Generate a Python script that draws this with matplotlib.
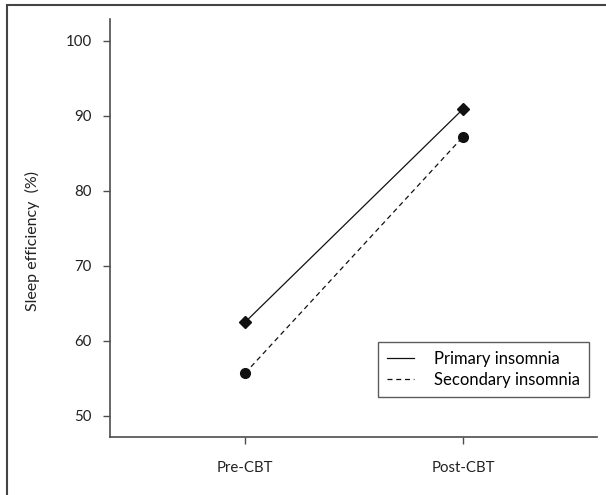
import matplotlib
matplotlib.use("Agg")
import matplotlib.pyplot as plt
from matplotlib.patches import Rectangle

# Data
phases = ["Pre-CBT", "Post-CBT"]
primary = [62.5, 90.9]
secondary = [55.7, 87.2]
y_ticks = [50, 60, 70, 80, 90, 100]

INK = "#111111"
AXIS = "#4d4d4d"

plt.rcParams["font.family"] = ["Lato", "DejaVu Sans"]

fig = plt.figure(figsize=(6.06, 4.95), dpi=100)
ax = fig.add_axes([110 / 606, 1 - 437 / 495, (597 - 110) / 606, (437 - 19) / 495])

x = list(range(len(phases)))
ax.plot(x, primary, color=INK, linewidth=0.9, linestyle="-",
        marker="D", markersize=6, label="Primary insomnia")
ax.plot(x, secondary, color=INK, linewidth=0.9, linestyle=(0, (4, 3)),
        marker="o", markersize=7, label="Secondary insomnia")

ax.set_xlim(-0.62, 1.615)
ax.set_ylim(47.2, 102.9)
ax.set_xticks(x)
ax.set_xticklabels(phases)
ax.set_yticks(y_ticks)
ax.set_ylabel("Sleep efficiency  (%)", fontsize=11.5, color="#222222")
ax.yaxis.set_label_coords((40 - 110) / 487, (437 - 241) / 418)

for side in ("top", "right"):
    ax.spines[side].set_visible(False)
for side in ("left", "bottom"):
    ax.spines[side].set_color(AXIS)
    ax.spines[side].set_linewidth(1.2)

ax.tick_params(axis="y", direction="out", length=5, width=1, color=AXIS,
               labelsize=10.8, labelcolor="#222222", pad=8)
ax.tick_params(axis="x", direction="out", length=5, width=1, color=AXIS,
               labelsize=10.8, labelcolor="#222222", pad=12)

leg = ax.legend(loc="lower right", bbox_to_anchor=((589 - 110) / 487, (437 - 397) / 418),
                borderaxespad=0, frameon=True, fancybox=False, fontsize=12,
                handlelength=1.6, handletextpad=1.2, borderpad=0.55,
                labelspacing=0.3)
leg.get_frame().set_edgecolor("#333333")
leg.get_frame().set_linewidth(1.0)
for h in leg.legend_handles:
    h.set_marker("")

# Outer panel frame, cropped at the right and bottom like the reference
fig.patches.append(Rectangle((7 / 606, -0.1), 1.2, 1.1 - 5 / 495,
                             transform=fig.transFigure, fill=False,
                             edgecolor="#444444", linewidth=1.5))

fig.savefig("out.png", dpi=100)
